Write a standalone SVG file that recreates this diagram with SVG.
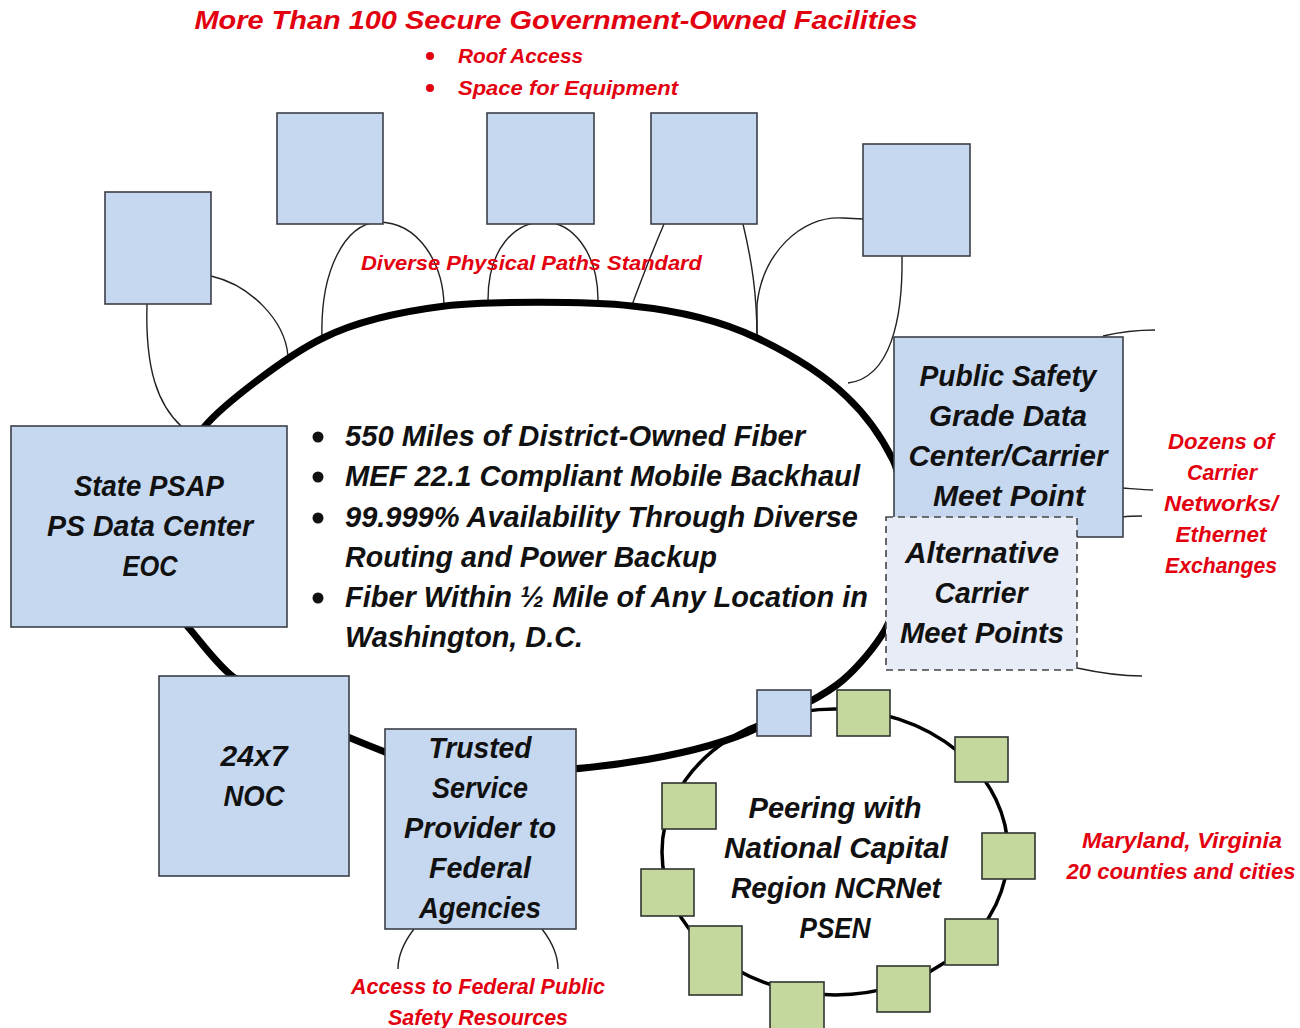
<svg xmlns="http://www.w3.org/2000/svg" width="1300" height="1028" viewBox="0 0 1300 1028">
<style>
text{font-family:"Liberation Sans",Arial,sans-serif;font-weight:bold;font-style:italic;}
.lbl{font-size:29px;fill:#111;text-anchor:middle;}
.body{font-size:29px;fill:#111;}
.red{fill:#e3000f;}
.rs{font-size:22px;text-anchor:middle;}
.box{fill:#c6d8f0;stroke:#3b4048;stroke-width:1.6;}
.grn{fill:#c4d79c;stroke:#2f3530;stroke-width:1.6;}
.thin{fill:none;stroke:#222;stroke-width:1.4;}
</style>
<rect width="1300" height="1028" fill="#fff"/>
<g id="connectors">
<path class="thin" d="M147,304 C145,370 158,405 182,427"/>
<path class="thin" d="M211,276 C250,285 285,320 288,356"/>
<path class="thin" d="M322,338 C320,270 345,224 378,222 C420,222 443,265 444,305"/>
<path class="thin" d="M488,300 C488,248 515,222 544,222 C572,222 598,252 598,300"/>
<path class="thin" d="M632,305 C645,270 655,245 664,224"/>
<path class="thin" d="M743,224 C752,262 757,295 757,338"/>
<path class="thin" d="M757,338 L757,305 C762,255 800,215 843,218 L863,219"/>
<path class="thin" d="M902,256 C903,320 890,378 848,383"/>
<path class="thin" d="M1103,336 C1120,332 1140,330 1155,330"/>
<path class="thin" d="M1122,488 C1135,489 1145,490 1153,490"/>
<path class="thin" d="M1122,517 C1130,516 1136,516 1142,516"/>
<path class="thin" d="M1077,668 C1100,673 1120,676 1142,676"/>
<path class="thin" d="M414,929 C404,942 398,955 398,969"/>
<path class="thin" d="M542,929 C552,942 558,955 558,969"/>
<path fill="none" stroke="#000" stroke-width="7" d="M323,338 C286,356 224,404 205,426 C176,460 158,594 188,627 C201,642 216.4,663.6 232,676 C271,707 338.5,733.5 385,752 C427,769 475,771 520,771 C600,771 703,754 757,728 C784,715 824,696.5 843,680 C858,667 875,647 885,630 C900,604 898,575 898,545 C898,515 904,482 893,460 C882,438 865,414 847,397 C822,373 788.5,353 757,338 C716.5,318.6 672,310 632,306 C590,301 487,301 445,306 C405,311 359,320 323,338 Z"/>
<ellipse cx="835" cy="852" rx="173" ry="143" fill="none" stroke="#000" stroke-width="3.5"/>
</g>
<g id="title">
<text class="red" x="556" y="29" font-size="26" text-anchor="middle" textLength="723" lengthAdjust="spacingAndGlyphs">More Than 100 Secure Government-Owned Facilities</text>
<circle class="red" cx="430" cy="56" r="4"/>
<circle class="red" cx="430" cy="88" r="4"/>
<text class="red" x="458" y="63" font-size="21" textLength="125" lengthAdjust="spacingAndGlyphs">Roof Access</text>
<text class="red" x="458" y="95" font-size="21" textLength="220" lengthAdjust="spacingAndGlyphs">Space for Equipment</text>
</g>
<g id="fac1"><rect class="box" x="105" y="192" width="106" height="112"/></g>
<g id="fac2"><rect class="box" x="277" y="113" width="106" height="111"/></g>
<g id="fac3"><rect class="box" x="487" y="113" width="107" height="111"/></g>
<g id="fac4"><rect class="box" x="651" y="113" width="106" height="111"/></g>
<g id="fac5"><rect class="box" x="863" y="144" width="107" height="112"/></g>
<g id="diverse-label">
<text class="red" x="361" y="270" font-size="21" textLength="341" lengthAdjust="spacingAndGlyphs">Diverse Physical Paths Standard</text>
</g>
<g id="ring-text">
<circle cx="318" cy="437" r="5.5" fill="#111"/>
<circle cx="318" cy="477" r="5.5" fill="#111"/>
<circle cx="318" cy="518" r="5.5" fill="#111"/>
<circle cx="318" cy="598" r="5.5" fill="#111"/>
<text class="body" x="345" y="446" textLength="460" lengthAdjust="spacingAndGlyphs">550 Miles of District-Owned Fiber</text>
<text class="body" x="345" y="486" textLength="515" lengthAdjust="spacingAndGlyphs">MEF 22.1 Compliant Mobile Backhaul</text>
<text class="body" x="345" y="527" textLength="513" lengthAdjust="spacingAndGlyphs">99.999% Availability Through Diverse</text>
<text class="body" x="345" y="567" textLength="372" lengthAdjust="spacingAndGlyphs">Routing and Power Backup</text>
<text class="body" x="345" y="607" textLength="523" lengthAdjust="spacingAndGlyphs">Fiber Within ½ Mile of Any Location in</text>
<text class="body" x="345" y="647" textLength="238" lengthAdjust="spacingAndGlyphs">Washington, D.C.</text>
</g>
<g id="state-psap">
<rect class="box" x="11" y="426" width="276" height="201"/>
<text class="lbl" x="149" y="496" textLength="150" lengthAdjust="spacingAndGlyphs">State PSAP</text>
<text class="lbl" x="150" y="536" textLength="206" lengthAdjust="spacingAndGlyphs">PS Data Center</text>
<text class="lbl" x="150" y="576" textLength="55" lengthAdjust="spacingAndGlyphs">EOC</text>
</g>
<g id="noc">
<rect class="box" x="159" y="676" width="190" height="200"/>
<text class="lbl" x="254" y="766" textLength="67" lengthAdjust="spacingAndGlyphs">24x7</text>
<text class="lbl" x="254" y="806" textLength="61" lengthAdjust="spacingAndGlyphs">NOC</text>
</g>
<g id="trusted">
<rect class="box" x="385" y="729" width="191" height="200"/>
<text class="lbl" x="480" y="758" textLength="103" lengthAdjust="spacingAndGlyphs">Trusted</text>
<text class="lbl" x="480" y="798" textLength="96" lengthAdjust="spacingAndGlyphs">Service</text>
<text class="lbl" x="480" y="838" textLength="152" lengthAdjust="spacingAndGlyphs">Provider to</text>
<text class="lbl" x="480" y="878" textLength="102" lengthAdjust="spacingAndGlyphs">Federal</text>
<text class="lbl" x="480" y="918" textLength="122" lengthAdjust="spacingAndGlyphs">Agencies</text>
</g>
<g id="access-label">
<text class="red rs" x="478" y="994" textLength="254" lengthAdjust="spacingAndGlyphs">Access to Federal Public</text>
<text class="red rs" x="478" y="1025" textLength="180" lengthAdjust="spacingAndGlyphs">Safety Resources</text>
</g>
<g id="ps-data-center">
<rect class="box" x="894" y="337" width="229" height="200"/>
<text class="lbl" x="1008" y="386" textLength="177" lengthAdjust="spacingAndGlyphs">Public Safety</text>
<text class="lbl" x="1008" y="426" textLength="158" lengthAdjust="spacingAndGlyphs">Grade Data</text>
<text class="lbl" x="1008" y="466" textLength="199" lengthAdjust="spacingAndGlyphs">Center/Carrier</text>
<text class="lbl" x="1009" y="506" textLength="152" lengthAdjust="spacingAndGlyphs">Meet Point</text>
</g>
<g id="alt-meet">
<rect x="886" y="517" width="191" height="153" fill="#e7ecf6" stroke="#444" stroke-width="1.6" stroke-dasharray="7,5"/>
<text class="lbl" x="982" y="563" textLength="154" lengthAdjust="spacingAndGlyphs">Alternative</text>
<text class="lbl" x="981" y="603" textLength="93" lengthAdjust="spacingAndGlyphs">Carrier</text>
<text class="lbl" x="982" y="643" textLength="164" lengthAdjust="spacingAndGlyphs">Meet Points</text>
</g>
<g id="dozens-label">
<text class="red rs" x="1221" y="449" textLength="106" lengthAdjust="spacingAndGlyphs">Dozens of</text>
<text class="red rs" x="1222" y="480" textLength="70" lengthAdjust="spacingAndGlyphs">Carrier</text>
<text class="red rs" x="1221" y="511" textLength="114" lengthAdjust="spacingAndGlyphs">Networks/</text>
<text class="red rs" x="1221" y="542" textLength="91" lengthAdjust="spacingAndGlyphs">Ethernet</text>
<text class="red rs" x="1221" y="573" textLength="112" lengthAdjust="spacingAndGlyphs">Exchanges</text>
</g>
<g id="ncr-ring">
<rect class="box" x="757" y="690" width="54" height="46"/>
<rect class="grn" x="837" y="690" width="53" height="46"/>
<rect class="grn" x="955" y="737" width="53" height="45"/>
<rect class="grn" x="982" y="833" width="53" height="46"/>
<rect class="grn" x="945" y="919" width="53" height="46"/>
<rect class="grn" x="877" y="966" width="53" height="46"/>
<rect class="grn" x="770" y="982" width="54" height="50"/>
<rect class="grn" x="689" y="926" width="53" height="69"/>
<rect class="grn" x="641" y="869" width="53" height="47"/>
<rect class="grn" x="662" y="783" width="54" height="46"/>
<text class="lbl" x="835" y="818" textLength="173" lengthAdjust="spacingAndGlyphs">Peering with</text>
<text class="lbl" x="836" y="858" textLength="224" lengthAdjust="spacingAndGlyphs">National Capital</text>
<text class="lbl" x="836" y="898" textLength="210" lengthAdjust="spacingAndGlyphs">Region NCRNet</text>
<text class="lbl" x="835" y="938" textLength="71" lengthAdjust="spacingAndGlyphs">PSEN</text>
</g>
<g id="md-va-label">
<text class="red rs" x="1182" y="848" textLength="200" lengthAdjust="spacingAndGlyphs">Maryland, Virginia</text>
<text class="red rs" x="1181" y="879" textLength="229" lengthAdjust="spacingAndGlyphs">20 counties and cities</text>
</g>
</svg>
